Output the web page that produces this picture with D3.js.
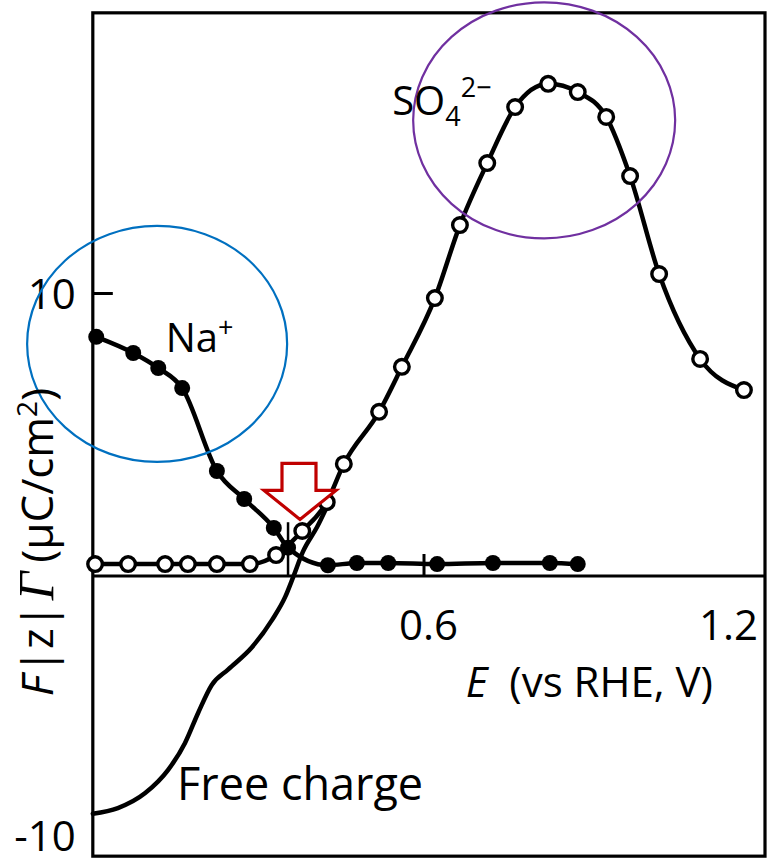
<!DOCTYPE html>
<html>
<head>
<meta charset="utf-8">
<script src="https://cdn.jsdelivr.net/npm/d3@7"></script>
<style>
  html, body { margin: 0; padding: 0; background: #fff; }
  svg { display: block; }
  text { font-family: "Open Sans", "Noto Sans", sans-serif; fill: #000; }
</style>
</head>
<body>
<svg id="chart" width="769" height="866"></svg>
<script>
// Electrode potential E (V vs RHE) and charge F|z|Γ (µC/cm²)

// Na+ (filled dots)
const naE = [0.025, 0.090, 0.134, 0.176, 0.237, 0.285, 0.337, 0.362, 0.432, 0.483, 0.538, 0.624, 0.722, 0.822, 0.871];
const naQ = [8.45, 7.88, 7.35, 6.64, 3.71, 2.72, 1.70, 1.00, 0.38, 0.46, 0.46, 0.42, 0.46, 0.46, 0.42];

// SO4 2- (open circles)
const so4E = [0.023, 0.081, 0.146, 0.186, 0.237, 0.295, 0.341, 0.387, 0.430, 0.460, 0.522, 0.562,
              0.620, 0.664, 0.712, 0.761, 0.819, 0.871, 0.921, 0.963, 1.014, 1.086, 1.163];
const so4Q = [0.42, 0.42, 0.42, 0.42, 0.42, 0.42, 0.74, 1.59, 2.61, 3.96, 5.80, 7.39,
              9.82, 12.40, 14.59, 16.57, 17.39, 17.10, 16.22, 14.13, 10.67, 7.67, 6.57];

// Free charge on the metal (plain line)
const freeE = [0.019, 0.063, 0.111, 0.151, 0.181, 0.204, 0.228, 0.257, 0.299, 0.334, 0.357, 0.371, 0.388, 0.413, 0.436];
const freeQ = [-8.40, -8.20, -7.67, -6.86, -5.90, -4.84, -3.85, -3.30, -2.51, -1.55, -0.74, -0.04, 0.85, 1.73, 2.69];

// Axis ticks and labels
const xTickValues = [0.6, 1.2];
const xTickLabels = ["0.6", "1.2"];
const yTickValues = [10, -10];
const yTickLabels = ["10", "-10"];

// Potential of zero charge marker
const pzcE = 0.362;

// Annotation anchors (data coordinates)
const naLabelAt = [0.147, 7.9];
const so4LabelAt = [0.545, 16.3];
const freeLabelAt = [0.167, -7.9];
const naRingAt = [0.132, 8.2];
const so4RingAt = [0.812, 16.1];
const arrowTipAt = [0.383, 2.0];

const W = 769, H = 866;
const svg = d3.select("#chart");
svg.append("rect").attr("width", W).attr("height", H).attr("fill", "#fff");

const xs = d3.scaleLinear().domain([0, 1.2]).range([82, 765]);
const ys = d3.scaleLinear().domain([-10, 10]).range([859, 293]);
const eMin = 0.019, eMax = 1.2, qMin = -9.9, qMax = 19.9;

const fLeft = xs(eMin), fRight = xs(eMax), fTop = ys(qMax), fBottom = ys(qMin);

// Frame
svg.append("rect")
  .attr("x", fLeft).attr("y", fTop)
  .attr("width", fRight - fLeft).attr("height", fBottom - fTop)
  .attr("fill", "none").attr("stroke", "#000").attr("stroke-width", 3.2);

// Zero line
svg.append("line")
  .attr("x1", fLeft).attr("x2", fRight)
  .attr("y1", ys(0)).attr("y2", ys(0))
  .attr("stroke", "#000").attr("stroke-width", 3.2);

// Inward ticks
const yAxis = svg.append("g")
  .attr("transform", `translate(${fLeft},0)`)
  .call(d3.axisRight(ys).tickValues([10]).tickSize(20).tickFormat(""));
const xAxis = svg.append("g")
  .attr("transform", `translate(0,${ys(0)})`)
  .call(d3.axisTop(xs).tickValues([0.6]).tickSize(22).tickFormat(""));
[yAxis, xAxis].forEach(g => {
  g.select(".domain").remove();
  g.selectAll(".tick line").attr("stroke", "#000").attr("stroke-width", 3);
});

// pzc marker
svg.append("line")
  .attr("x1", xs(pzcE)).attr("x2", xs(pzcE))
  .attr("y1", ys(0)).attr("y2", ys(1.9))
  .attr("stroke", "#000").attr("stroke-width", 2.5);

// Tick labels (kept inside the bottom edge)
svg.selectAll("text.ylab").data(yTickValues).enter().append("text")
  .attr("class", "ylab")
  .attr("x", fLeft - 17)
  .attr("y", d => Math.min(ys(d) + 16, H - 15))
  .attr("text-anchor", "end")
  .attr("font-size", 42)
  .text((d, i) => yTickLabels[i]);

svg.selectAll("text.xlab").data(xTickValues).enter().append("text")
  .attr("class", "xlab")
  .attr("x", d => (xs(d) + 40 > fRight ? fRight - 7 : xs(d) + 5))
  .attr("y", ys(0) + 64)
  .attr("text-anchor", d => (xs(d) + 40 > fRight ? "end" : "middle"))
  .attr("font-size", 42)
  .text((d, i) => xTickLabels[i]);

// Curves
const toPts = (E, Q) => E.map((e, i) => [e, Q[i]]);
const naPts = toPts(naE, naQ);
const so4Pts = toPts(so4E, so4Q);
const freePts = toPts(freeE, freeQ);

const line = d3.line()
  .x(d => xs(d[0])).y(d => ys(d[1]))
  .curve(d3.curveMonotoneX);

[freePts, naPts, so4Pts].forEach(pts => {
  svg.append("path")
    .attr("d", line(pts))
    .attr("fill", "none")
    .attr("stroke", "#000")
    .attr("stroke-width", 4.5)
    .attr("stroke-linejoin", "round")
    .attr("stroke-linecap", "round");
});

// Markers
svg.selectAll("circle.so4").data(so4Pts).enter().append("circle")
  .attr("class", "so4")
  .attr("cx", d => xs(d[0])).attr("cy", d => ys(d[1]))
  .attr("r", 7.3)
  .attr("fill", "#fff").attr("stroke", "#000").attr("stroke-width", 3.4);

svg.selectAll("circle.na").data(naPts).enter().append("circle")
  .attr("class", "na")
  .attr("cx", d => xs(d[0])).attr("cy", d => ys(d[1]))
  .attr("r", 8)
  .attr("fill", "#000");

// Highlight rings
svg.append("ellipse")
  .attr("cx", xs(naRingAt[0])).attr("cy", ys(naRingAt[1]))
  .attr("rx", 130).attr("ry", 118)
  .attr("fill", "none").attr("stroke", "#0070C0").attr("stroke-width", 2.2);
svg.append("ellipse")
  .attr("cx", xs(so4RingAt[0])).attr("cy", ys(so4RingAt[1]))
  .attr("rx", 131).attr("ry", 118)
  .attr("fill", "none").attr("stroke", "#7030A0").attr("stroke-width", 2.2);

// Arrow pointing at the crossing point
{
  const tx = xs(arrowTipAt[0]), ty = ys(arrowTipAt[1]);
  const pts = [
    [tx - 18, ty - 56], [tx + 16, ty - 56], [tx + 16, ty - 29], [tx + 36, ty - 29],
    [tx, ty], [tx - 36, ty - 29], [tx - 18, ty - 29]
  ];
  svg.append("polygon")
    .attr("points", pts.map(p => p.join(",")).join(" "))
    .attr("fill", "#fff").attr("stroke", "#C00000").attr("stroke-width", 3.2)
    .attr("stroke-linejoin", "miter");
}

// Series labels
const naText = svg.append("text")
  .attr("x", xs(naLabelAt[0])).attr("y", ys(naLabelAt[1]))
  .attr("font-size", 40);
naText.append("tspan").text("Na");
naText.append("tspan").attr("font-size", 27).attr("dy", -15).text("+");

const so4Text = svg.append("text")
  .attr("x", xs(so4LabelAt[0])).attr("y", ys(so4LabelAt[1]))
  .attr("font-size", 40);
so4Text.append("tspan").text("SO");
so4Text.append("tspan").attr("font-size", 27).attr("dy", 11).text("4");
so4Text.append("tspan").attr("font-size", 27).attr("dy", -29).text("2\u2212");

svg.append("text")
  .attr("x", xs(freeLabelAt[0])).attr("y", ys(freeLabelAt[1]))
  .attr("font-size", 45)
  .text("Free charge");

// Axis titles
const xTitle = svg.append("text")
  .attr("x", fRight - 52).attr("y", ys(0) + 121)
  .attr("text-anchor", "end")
  .attr("font-size", 42);
xTitle.append("tspan").attr("font-style", "italic").text("E");
xTitle.append("tspan").text("\u00a0 (vs RHE, V)");

const yTitle = svg.append("text")
  .attr("transform", `translate(53,${ys(1.2)}) rotate(-90)`)
  .attr("text-anchor", "middle")
  .attr("font-size", 44);
yTitle.append("tspan").attr("font-style", "italic").text("F");
yTitle.append("tspan").attr("dx", 2).text("|z|");
yTitle.append("tspan")
  .attr("dx", 4)
  .attr("font-family", "'Liberation Serif', serif")
  .attr("font-style", "italic")
  .attr("font-size", 50)
  .text("\u0393");
yTitle.append("tspan").attr("dx", 9).text("(\u03bcC/cm");
yTitle.append("tspan").attr("font-size", 28).attr("dy", -16).text("2");
yTitle.append("tspan").attr("dy", 16).text(")");
</script>
</body>
</html>
